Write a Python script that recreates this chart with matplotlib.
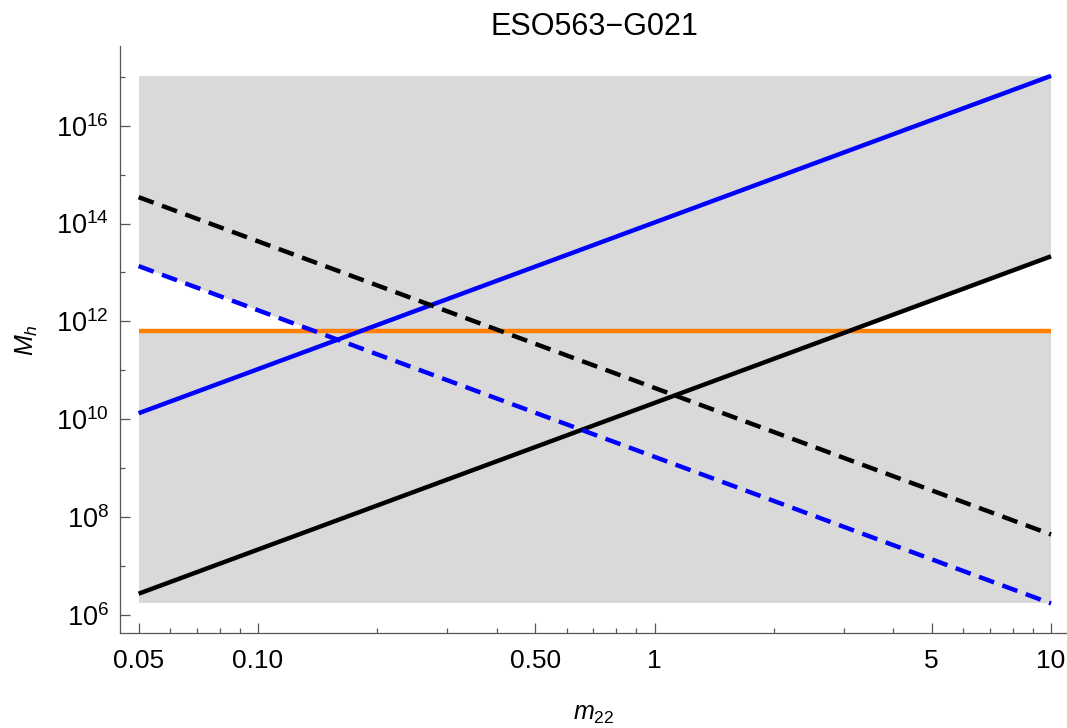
import numpy as np
import matplotlib
matplotlib.use("Agg")
import matplotlib.pyplot as plt
from matplotlib.ticker import FixedLocator, FixedFormatter, NullFormatter
from matplotlib.patches import Rectangle, Polygon

plt.rcParams['font.family'] = ['Liberation Sans', 'DejaVu Sans']
plt.rcParams['mathtext.fontset'] = 'custom'
plt.rcParams['mathtext.rm'] = 'Liberation Sans'
plt.rcParams['mathtext.it'] = 'Liberation Sans:italic'
plt.rcParams['mathtext.bf'] = 'Liberation Sans:bold'

# ---- data ----
m22 = [0.05, 10.0]
blue_solid = [1.32e10, 1.05e17]
black_solid = [2.69e6, 2.14e13]
black_dashed = [3.47e14, 4.37e7]
blue_dashed = [1.35e13, 1.70e6]
orange_level = 6.46e11

x_major = [0.05, 0.1, 0.5, 1, 5, 10]
x_major_labels = ["0.05", "0.10", "0.50", "1", "5", "10"]
x_minor = [0.06, 0.07, 0.08, 0.09, 0.2, 0.3, 0.4, 0.6, 0.7, 0.8, 0.9,
           2, 3, 4, 6, 7, 8, 9]
y_major_exp = [6, 8, 10, 12, 14, 16]
y_minor_exp = [7, 9, 11, 13, 15, 17]

title = "ESO563\u2212G021"

# ---- helpers ----
def crossing(x, y, level):
    lx = np.log10(x)
    ly = np.log10(y)
    t = (np.log10(level) - ly[0]) / (ly[1] - ly[0])
    return 10 ** (lx[0] + t * (lx[1] - lx[0]))

W, H = 1067, 728
fig = plt.figure(figsize=(W / 100, H / 100), dpi=100)
ax_left, ax_right = 120, 1069
ax_top, ax_bottom = 46, 632.7
ax = fig.add_axes([ax_left / W, (H - ax_bottom) / H,
                   (ax_right - ax_left) / W, (ax_bottom - ax_top) / H])
ax.set_xscale('log')
ax.set_yscale('log')
ax.set_xlim(10 ** -1.348, 10 ** 1.0453)
ax.set_ylim(10 ** 5.632, 10 ** 17.632)

# gray region spanning the curves
all_vals = blue_solid + black_solid + black_dashed + blue_dashed
g_bot, g_top = min(all_vals), max(all_vals)
ax.add_patch(Rectangle((m22[0], g_bot), m22[-1] - m22[0], g_top - g_bot,
                       facecolor='#d9d9d9', edgecolor='none', zorder=1))

# white (excluded) regions above the orange line
xc1 = crossing(m22, blue_dashed, orange_level)
xc2 = crossing(m22, black_solid, orange_level)
ax.add_patch(Polygon([(m22[0], orange_level), (m22[0], blue_dashed[0]),
                      (xc1, orange_level)], closed=True,
                     facecolor='white', edgecolor='none', zorder=2))
ax.add_patch(Polygon([(xc2, orange_level), (m22[-1], black_solid[-1]),
                      (m22[-1], orange_level)], closed=True,
                     facecolor='white', edgecolor='none', zorder=2))

lw = 3.2
ax.plot(m22, [orange_level, orange_level], color='#ff8000', lw=lw,
        solid_capstyle='butt', zorder=3)
ax.plot(m22, blue_solid, color='#0000ff', lw=lw, solid_capstyle='butt', zorder=4)
ax.plot(m22, black_solid, color='black', lw=lw, solid_capstyle='butt', zorder=4)
ax.plot(m22, black_dashed, color='black', lw=lw, linestyle=(0, (3.6, 2.0)),
        dash_capstyle='butt', zorder=4)
ax.plot(m22, blue_dashed, color='#0000ff', lw=lw, linestyle=(0, (3.6, 2.0)),
        dash_capstyle='butt', zorder=4)

# axes styling
axis_col = '#555555'
for s in ['top', 'right']:
    ax.spines[s].set_visible(False)
for s in ['left', 'bottom']:
    ax.spines[s].set_color(axis_col)
    ax.spines[s].set_linewidth(0.9)

ax.xaxis.set_major_locator(FixedLocator(x_major))
ax.xaxis.set_major_formatter(FixedFormatter(x_major_labels))
ax.xaxis.set_minor_locator(FixedLocator(x_minor))
ax.xaxis.set_minor_formatter(NullFormatter())

ax.yaxis.set_major_locator(FixedLocator([10.0 ** e for e in y_major_exp]))
ax.yaxis.set_major_formatter(FixedFormatter([r'$10^{%d}$' % e for e in y_major_exp]))
ax.yaxis.set_minor_locator(FixedLocator([10.0 ** e for e in y_minor_exp]))
ax.yaxis.set_minor_formatter(NullFormatter())

ax.tick_params(which='both', direction='in', color=axis_col, labelcolor='black',
               width=0.9)
ax.tick_params(axis='x', which='major', labelsize=19, pad=12)
ax.tick_params(axis='y', which='major', labelsize=19.5, pad=8)
ax.tick_params(which='major', length=7)
ax.tick_params(which='minor', length=3.5)

ax.set_title(title, fontsize=22, pad=8)
fig.text(594 / W, 1 - 714 / H, r'$m_{22}$', ha='center', va='center', fontsize=18)
fig.text(27 / W, 1 - 340 / H, r'$M_h$', ha='center', va='center', rotation=90,
         fontsize=18)

fig.savefig('out.png', dpi=100)
